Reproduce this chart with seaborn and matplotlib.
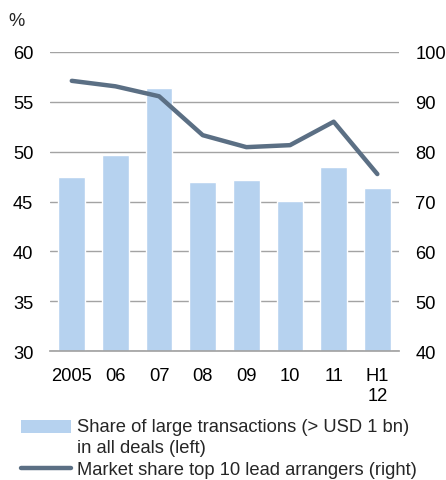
import matplotlib
matplotlib.use("Agg")
import matplotlib.pyplot as plt
import seaborn as sns
import pandas as pd
import numpy as np
from matplotlib.patches import Patch
from matplotlib.lines import Line2D

# data
periods = ["2005", "06", "07", "08", "09", "10", "11", "H1\n12"]
large_share = [47.5, 49.7, 56.4, 47.0, 47.2, 45.1, 48.5, 46.4]
top10_share = [94.2, 93.1, 91.1, 83.3, 80.9, 81.3, 86.0, 75.5]

bar_color = "#b6d2ef"
line_color = "#5b6f84"
grid_color = "#a3a3a3"
fs = 13.2

sns.set_theme(style="white")
plt.rcParams["font.family"] = ["Liberation Sans", "DejaVu Sans"]

df = pd.DataFrame({"period": periods, "large": large_share,
                   "top10": top10_share, "pos": np.arange(len(periods))})

fig = plt.figure(figsize=(4.46, 4.81), dpi=100)
ax = fig.add_axes([0.112, 0.268, 0.783, 0.622])

sns.barplot(data=df, x="period", y="large", color=bar_color, width=0.61,
            saturation=1, ax=ax, zorder=2)
ax.set_ylim(30, 60)
ax.set_yticks(range(30, 61, 5))
ax.set_xlim(-0.5, len(periods) - 0.5)
ax.set_xlabel("")
ax.set_ylabel("")
ax.yaxis.grid(True, color=grid_color, linewidth=1)
ax.set_axisbelow(True)
for s in ax.spines.values():
    s.set_visible(False)
ax.spines["bottom"].set_visible(True)
ax.spines["bottom"].set_color(grid_color)
ax.tick_params(axis="y", labelsize=fs, colors="black", length=0, pad=12)
ax.tick_params(axis="x", labelsize=fs, colors="black", length=0, pad=11.5)
for lbl in ax.get_xticklabels():
    lbl.set_linespacing(1.25)

ax2 = ax.twinx()
sns.lineplot(data=df, x="pos", y="top10", color=line_color, linewidth=3.2,
             ax=ax2, zorder=3)
ax2.set_ylim(40, 100)
ax2.set_yticks(range(40, 101, 10))
ax2.set_xlim(-0.5, len(periods) - 0.5)
ax2.set_ylabel("")
ax2.set_xlabel("")
for s in ax2.spines.values():
    s.set_visible(False)
ax2.tick_params(axis="y", labelsize=fs, colors="black", length=0, pad=11.5)

fig.text(0.018, 0.956, "%", fontsize=fs, va="center")

handles = [Patch(facecolor=bar_color, edgecolor="none"),
           Line2D([0], [0], color=line_color, linewidth=3.2)]
labels = ["Share of large transactions (> USD 1 bn)\nin all deals (left)",
          "Market share top 10 lead arrangers (right)"]
leg = fig.legend(handles, labels, loc="upper left",
                 bbox_to_anchor=(0.047, 0.128), frameon=False, fontsize=fs,
                 handlelength=2.75, handletextpad=0.32, labelspacing=0.3,
                 borderaxespad=0, borderpad=0)
for t in leg.get_texts():
    t.set_linespacing(1.25)
# put the bar swatch next to the first text line, as in the original
swatch = leg.legend_handles[0]
swatch.set_y(swatch.get_y() + 7.5)

fig.savefig("out.png", dpi=100)
